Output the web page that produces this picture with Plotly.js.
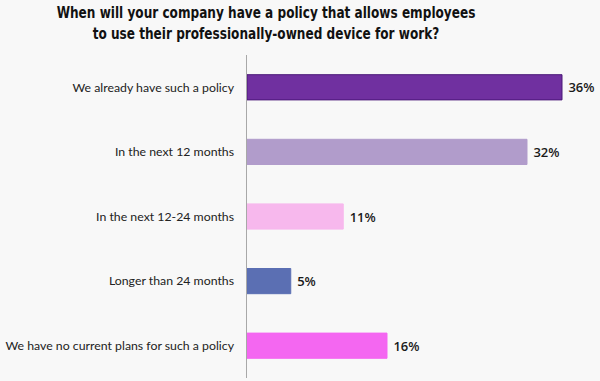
<!DOCTYPE html>
<html>
<head>
<meta charset="utf-8">
<script src="https://cdn.plot.ly/plotly-3.0.1.min.js"></script>
<style>html,body{margin:0;padding:0;background:#f8f8f8;}#chart{width:600px;height:381px;}</style>
</head>
<body>
<div id="chart"></div>
<script>
const categories = [
  "We already have such a policy",
  "In the next 12 months",
  "In the next 12-24 months",
  "Longer than 24 months",
  "We have no current plans for such a policy"
];
const values = [36, 32, 11, 5, 16];
const valueLabels = ["36%", "32%", "11%", "5%", "16%"];
const barColors = ["#7030a0", "#b19ccb", "#f7b8ed", "#5b6fb3", "#f467f1"];
const barLines = ["#4a1878", "#b19ccb", "#f7b8ed", "#5b6fb3", "#f467f1"];

const trace = {
  type: "bar",
  orientation: "h",
  y: categories,
  x: values,
  text: valueLabels.map(t => "\u00a0" + t),
  textposition: "outside",
  cliponaxis: false,
  textfont: {family: "Open Sans, sans-serif", size: 13, color: "#1a1a1a", weight: 600},
  marker: {color: barColors, line: {color: barLines, width: 1}},
  width: 0.39,
  hoverinfo: "none"
};

const layout = {
  width: 600, height: 381,
  paper_bgcolor: "#f8f8f8",
  plot_bgcolor: "#f8f8f8",
  margin: {l: 247, r: 3, t: 55, b: 3},
  showlegend: false,
  title: {
    text: "<b>When will your company have a policy that allows employees<br>to use their professionally-owned device for work?</b>",
    x: 266/600, xanchor: "center", xref: "container",
    y: 0.954, yanchor: "top", yref: "container",
    font: {family: "DejaVu Sans Condensed, DejaVu Sans, sans-serif", size: 16.5, color: "#111111"}
  },
  xaxis: {
    range: [0, 40],
    showgrid: false, zeroline: false, showticklabels: false, showline: false, ticks: ""
  },
  yaxis: {
    autorange: "reversed",
    showgrid: false, zeroline: false,
    showline: true, linecolor: "#a8a8a8", linewidth: 1.5,
    ticks: "outside", ticklen: 9, tickcolor: "rgba(0,0,0,0)",
    tickfont: {family: "Lato, sans-serif", size: 12.3, color: "#222222"}
  },
  bargap: 0.61
};

Plotly.newPlot("chart", [trace], layout, {displayModeBar: false, staticPlot: true}).then(gd => {
  // condense the title horizontally to match the narrow typeface of the original
  const t = gd.querySelector(".gtitle");
  if (t) {
    const bb = t.getBBox();
    const cx = 266;
    const s = Math.min(1, 419 / bb.width);
    t.setAttribute("transform", `translate(${cx},0) scale(${s},1) translate(${-cx},0)`);
  }
});
</script>
</body>
</html>
